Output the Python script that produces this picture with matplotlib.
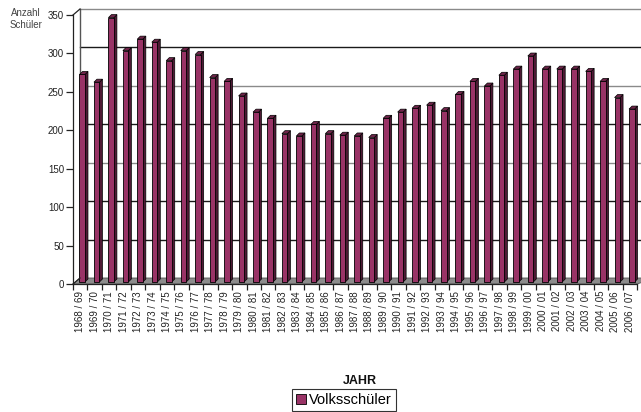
import matplotlib
matplotlib.use('Agg')
import matplotlib.pyplot as plt
import matplotlib.transforms as mtransforms
from matplotlib.patches import Patch, Polygon
import numpy as np

plt.rcParams['font.family'] = ['Liberation Sans', 'DejaVu Sans']

categories = ["1968 / 69", "1969 / 70", "1970 / 71", "1971 / 72", "1972 / 73", "1973 / 74",
              "1974 / 75", "1975 / 76", "1976 / 77", "1977 / 78", "1978 / 79", "1979 / 80",
              "1980 / 81", "1981 / 82", "1982 / 83", "1983 / 84", "1984 / 85", "1985 / 86",
              "1986 / 87", "1987 / 88", "1988 / 89", "1989 / 90", "1990 / 91", "1991 / 92",
              "1992 / 93", "1993 / 94", "1994 / 95", "1995 / 96", "1996 / 97", "1997 / 98",
              "1998 / 99", "1999 / 00", "2000 / 01", "2001 / 02", "2002 / 03", "2003 / 04",
              "2004 / 05", "2005 / 06", "2006 / 07"]
volksschueler = [270, 260, 344, 301, 316, 312, 288, 301, 296, 266, 261, 242,
                 221, 213, 193, 190, 205, 193, 191, 190, 188, 213, 221, 226,
                 230, 223, 244, 261, 255, 269, 277, 294, 277, 277, 277, 274,
                 261, 240, 225]
yticks = [0, 50, 100, 150, 200, 250, 300, 350]
series_name = "Volksschüler"
x_title = "JAHR"
y_title = "Anzahl\nSchüler"

DPI = 100
W, H = 641, 412
fig = plt.figure(figsize=(W / DPI, H / DPI), dpi=DPI)
ax = fig.add_axes([73 / W, 128 / H, 564 / W, 269 / H])
n = len(categories)
ax.set_xlim(-0.5, n - 0.5)
ax.set_ylim(0, 350)
ax.patch.set_visible(False)

front = '#993366'
side = '#4f1a35'
topc = '#6e2449'


def off(dx, dy):
    return mtransforms.ScaledTranslation(dx / DPI, dy / DPI, fig.dpi_scale_trans)


WALL = (7, 6)
BF = (2, 2)
BB = (5, 5)

# back wall gridlines
blend = mtransforms.blended_transform_factory(ax.transAxes, ax.transData)
for i, yv in enumerate(yticks[1:]):
    col = '#8a8a8a' if yv in (350, 250, 150) else '#1a1a1a'
    ax.plot([0, 1.02], [yv, yv], transform=blend + off(*WALL), color=col, lw=1.0,
            clip_on=False, zorder=1)
# back wall left edge
ax.plot([0, 0], [0, 350], transform=blend + off(*WALL), color='#555555', lw=1.0,
        clip_on=False, zorder=1)
# connectors front axis -> back wall
for yv in (0, 350):
    p0 = blend.transform((0, yv))
    p1 = (blend + off(*WALL)).transform((0, yv))
    ax.add_line(plt.Line2D([p0[0], p1[0]], [p0[1], p1[1]], transform=mtransforms.IdentityTransform(),
                           color='#222222', lw=0.9, clip_on=False, zorder=5))

# floor
fl = [blend.transform((0, 0)), blend.transform((1, 0)),
      (blend + off(*WALL)).transform((1.02, 0)), (blend + off(*WALL)).transform((0, 0))]
ax.add_patch(Polygon(fl, closed=True, transform=mtransforms.IdentityTransform(),
                     facecolor='#8c8c8c', edgecolor='#555555', lw=0.6, clip_on=False, zorder=2))

# bars
x = np.arange(n)
bw = 0.38
ax.bar(x, volksschueler, width=bw, color=front, edgecolor='black', linewidth=0.6,
       transform=ax.transData + off(*BF), zorder=4, clip_on=False)
tf = ax.transData + off(*BF)
tb = ax.transData + off(*BB)
for xi, v in zip(x, volksschueler):
    r0 = tf.transform((xi + bw / 2, 0))
    r1 = tf.transform((xi + bw / 2, v))
    r2 = tb.transform((xi + bw / 2, v))
    r3 = tb.transform((xi + bw / 2, 0))
    ax.add_patch(Polygon([r0, r1, r2, r3], closed=True, transform=mtransforms.IdentityTransform(),
                         facecolor=side, edgecolor='black', lw=0.5, clip_on=False, zorder=3.5))
    l1 = tf.transform((xi - bw / 2, v))
    l2 = tb.transform((xi - bw / 2, v))
    ax.add_patch(Polygon([l1, r1, r2, l2], closed=True, transform=mtransforms.IdentityTransform(),
                         facecolor=topc, edgecolor='black', lw=0.5, clip_on=False, zorder=3.6))

# axes styling
for s in ('top', 'right'):
    ax.spines[s].set_visible(False)
ax.spines['left'].set_color('#222222')
ax.spines['bottom'].set_color('#222222')
ax.spines['left'].set_linewidth(0.9)
ax.spines['bottom'].set_linewidth(0.9)
ax.spines['left'].set_zorder(5)
ax.spines['bottom'].set_zorder(5)

ax.set_yticks(yticks)
ax.set_yticklabels([str(t) for t in yticks])
ax.tick_params(axis='y', direction='out', length=5, width=0.9, labelsize=7, pad=1.5,
               colors='#222222')
ax.set_xticks(x)
ax.set_xticklabels(categories, rotation=90, fontsize=7)
ax.set_xticks(np.arange(-0.5, n, 1.0), minor=True)
ax.tick_params(axis='x', which='major', length=0, pad=5, colors='#222222')
ax.tick_params(axis='x', which='minor', length=4, width=0.9, color='#222222')

fig.text(42 / W, 1 - 19 / H, y_title, ha='right', va='center', multialignment='center',
         fontsize=7, color='#444444', linespacing=1.25)
fig.text(360 / W, 1 - 381 / H, x_title, ha='center', va='center', fontsize=9,
         fontweight='bold', color='#111111')

leg = fig.legend(handles=[Patch(facecolor=front, edgecolor='black', linewidth=0.6, label=series_name)],
                 loc='center', bbox_to_anchor=(344 / W, 1 - 400 / H), frameon=True, fancybox=False,
                 edgecolor='black', fontsize=10.5, handlelength=0.7, handleheight=0.7,
                 handletextpad=0.2, borderpad=0.25, borderaxespad=0)
leg.get_frame().set_linewidth(0.8)

fig.savefig('out.png', dpi=DPI)
